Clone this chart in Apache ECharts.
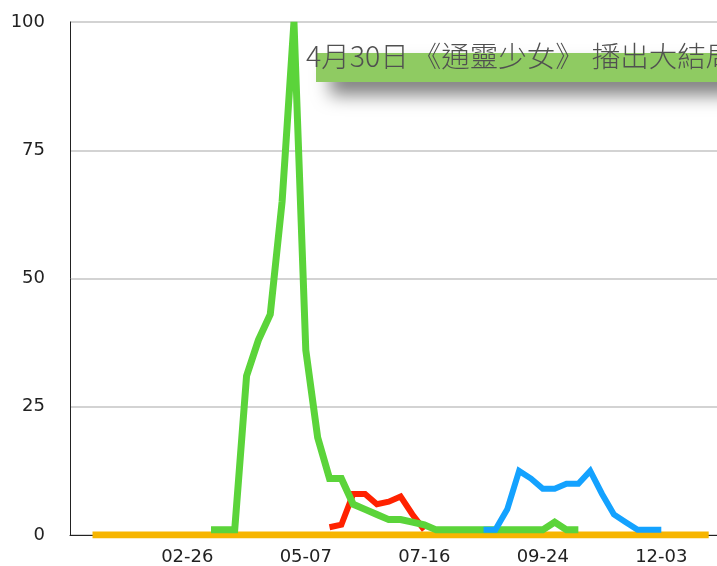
<!DOCTYPE html>
<html>
<head>
<meta charset="utf-8">
<script src="https://cdn.jsdelivr.net/npm/echarts@6/dist/echarts.min.js"></script>
<style>html,body{margin:0;padding:0;background:#fff;}#c{width:717px;height:566px;}</style>
</head>
<body>
<div id="c"></div>
<script>
var weeks = ['01-01','01-08','01-15','01-22','01-29','02-05','02-12','02-19','02-26','03-05','03-12','03-19','03-26','04-02','04-09','04-16','04-23','04-30','05-07','05-14','05-21','05-28','06-04','06-11','06-18','06-25','07-02','07-09','07-16','07-23','07-30','08-06','08-13','08-20','08-27','09-03','09-10','09-17','09-24','10-01','10-08','10-15','10-22','10-29','11-05','11-12','11-19','11-26','12-03','12-10','12-17','12-24','12-31'];
var labelWeeks = ['02-26','05-07','07-16','09-24','12-03'];
var yTicks = [0,25,50,75,100];

var orangeVals = [0,0,0,0,0,0,0,0,0,0,0,0,0,0,0,0,0,0,0,0,0,0,0,0,0,0,0,0,0,0,0,0,0,0,0,0,0,0,0,0,0,0,0,0,0,0,0,0,0,0,0,0,0];
var greenVals = [null,null,null,null,null,null,null,null,null,null,1,1,1,31,38,43,65,100,36,19,11,11,6,5,4,3,3,2.5,2,1,1,1,1,1,1,1,1,1,1,2.5,1,1,null,null,null,null,null,null,null,null,null,null,null];
var redVals = [null,null,null,null,null,null,null,null,null,null,null,null,null,null,null,null,null,null,null,null,1.5,2,8,8,6,6.5,7.5,4,1,null,null,null,null,null,null,null,null,null,null,null,null,null,null,null,null,null,null,null,null,null,null,null,null];
var blueVals = [null,null,null,null,null,null,null,null,null,null,null,null,null,null,null,null,null,null,null,null,null,null,null,null,null,null,null,null,null,null,null,null,null,1,1,5,12.5,11,9,9,10,10,12.5,8,4,2.5,1,1,1,null,null,null,null];
var annotationParts = ['4月30日', '《通靈少女》', '播出大結局'];

function pairs(vals){
  var out = [];
  for (var i = 0; i < vals.length; i++) { if (vals[i] !== null) out.push([i, vals[i]]); }
  return out;
}
var labelIdx = labelWeeks.map(function(w){ return weeks.indexOf(w); });

var annFontSize = 28.5;
var annFont = '300 ' + annFontSize + 'px "Noto Sans CJK TC"';
var ctx = document.createElement('canvas').getContext('2d');
ctx.font = annFont;
var gaps = [0, 4, 8];
var annX = 306;
var annGraphics = [];
annotationParts.forEach(function(t, k){
  annX += gaps[k];
  annGraphics.push({type:'text', x:annX, y:56, z:101,
    style:{text:t, fill:'#505050', fontSize:annFontSize, fontWeight:300, fontFamily:'"Noto Sans CJK TC"', verticalAlign:'middle'}});
  annX += ctx.measureText(t).width;
});

var chart = echarts.init(document.getElementById('c'), null, {renderer:'canvas'});
var labelFont = {color:'#222', fontSize:18, fontFamily:'DejaVu Sans'};
function line(name, vals, color, width){
  return {name:name, type:'line', data:pairs(vals), showSymbol:false, symbol:'none',
    lineStyle:{color:color, width:width, join:'miter'}, itemStyle:{color:color}, animation:false};
}
chart.setOption({
  animation:false,
  grid:{left:70, right:0, top:22, bottom:31, containLabel:false},
  xAxis:{type:'value', min:-1.9, max:52.7,
    axisLine:{show:true, onZero:false, lineStyle:{color:'#222', width:1}},
    axisTick:{show:false}, splitLine:{show:false},
    axisLabel:Object.assign({customValues:labelIdx, margin:13, formatter:function(v){ return weeks[Math.round(v)] || ''; }}, labelFont)
  },
  yAxis:{type:'value', min:0, max:100, interval:25,
    axisLine:{show:true, onZero:false, lineStyle:{color:'#222', width:1}},
    axisTick:{show:false},
    splitLine:{show:true, lineStyle:{color:'#c4c4c4', width:1.5}},
    axisLabel:Object.assign({margin:25, formatter:function(v){ return yTicks.indexOf(v) >= 0 ? String(v) : ''; }}, labelFont)
  },
  series:[
    line('orange', orangeVals, '#f7b500', 7),
    line('red', redVals, '#ff2200', 6),
    line('green', greenVals, '#5bd43a', 7),
    line('blue', blueVals, '#14a2ff', 6)
  ],
  graphic:[
    {type:'rect', shape:{x:316, y:53, width:430, height:29}, z:100,
     style:{fill:'#8fcb62', shadowBlur:18, shadowOffsetX:14, shadowOffsetY:13, shadowColor:'rgba(0,0,0,0.5)'}}
  ].concat(annGraphics)
});
</script>
</body>
</html>
